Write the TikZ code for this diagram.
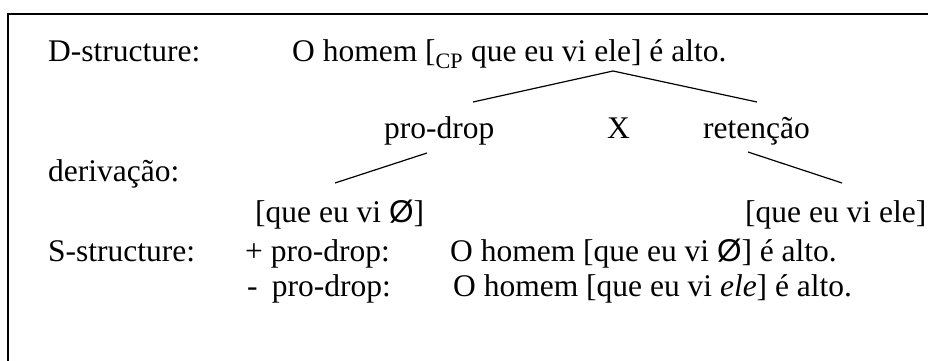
\documentclass[tikz,border=0pt]{standalone}
\usepackage{fontspec}
\setmainfont{Liberation Serif}
\newfontfamily\zerofont{Liberation Sans}
\newcommand{\zerosym}{{\zerofont Ø}}
\begin{document}
\begin{tikzpicture}[x=1pt,y=-1pt,
  txt/.style={anchor=base west,inner sep=0pt,font=\fontsize{31.5}{36}\selectfont},
  frame/.style={line width=2pt,line cap=rect},
  branch/.style={line width=1.2pt}]
\useasboundingbox (0,0) rectangle (928,361);
% frame (open at right and bottom)
\draw[frame] (8,361) -- (8,14) -- (930,14);
% labels
\node[txt] (dlab) at (48,62) {D-structure:};
\node[txt] (dsent) at (292,62) {O homem [\textsubscript{CP} que eu vi ele] é alto.};
\node[txt] (pd) at (384,138) {pro-drop};
\node[txt] (xx) at (607,138) {X};
\node[txt] (ret) at (703,138) {retenção};
\node[txt] (der) at (48,181) {derivação:};
\node[txt] (qnull) at (255,222) {[que eu vi \zerosym]};
\node[txt] (qele) at (745,222) {[que eu vi ele]};
\node[txt] (slab) at (48,261) {S-structure:};
\node[txt] (plus) at (245,261) {+ pro-drop:};
\node[txt] (s1) at (450,261) {O homem [que eu vi \zerosym] é alto.};
\node[txt] (minus) at (247,296) {-\hspace{0.45em}pro-drop:};
\node[txt] (s2) at (453,296) {O homem [que eu vi \textit{ele}] é alto.};
% branch points
\coordinate (apex) at (613,71);
\coordinate (pdtop) at (473,102);
\coordinate (rettop) at (757,102);
\coordinate (pdbot) at (427,153);
\coordinate (qnulltop) at (335,183);
\coordinate (retbot) at (748,152);
\coordinate (qeletop) at (842,183);
\draw[branch] (pdtop) -- (apex) -- (rettop);
\draw[branch] (pdbot) -- (qnulltop);
\draw[branch] (retbot) -- (qeletop);
\end{tikzpicture}
\end{document}
